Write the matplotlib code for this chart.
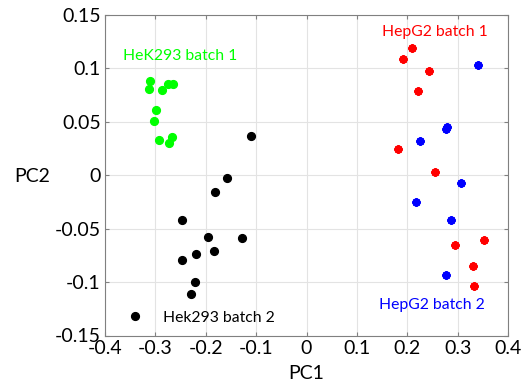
import matplotlib
matplotlib.use("Agg")
import matplotlib.pyplot as plt

plt.rcParams['font.family'] = ['Lato', 'DejaVu Sans']

hek1_x = [-0.310, -0.312, -0.287, -0.275, -0.265, -0.298, -0.302, -0.293, -0.267, -0.273]
hek1_y = [0.088, 0.081, 0.080, 0.085, 0.085, 0.061, 0.051, 0.033, 0.036, 0.030]

hek2_x = [-0.111, -0.157, -0.182, -0.248, -0.196, -0.129, -0.184, -0.220, -0.248, -0.221, -0.230, -0.341]
hek2_y = [0.037, -0.003, -0.016, -0.042, -0.058, -0.059, -0.071, -0.074, -0.079, -0.100, -0.111, -0.132]

hep1_x = [0.210, 0.192, 0.244, 0.221, 0.181, 0.255, 0.352, 0.295, 0.331, 0.332]
hep1_y = [0.119, 0.109, 0.098, 0.079, 0.025, 0.003, -0.061, -0.065, -0.085, -0.104]

hep2_x = [0.341, 0.279, 0.277, 0.226, 0.306, 0.217, 0.286, 0.277]
hep2_y = [0.103, 0.045, 0.043, 0.032, -0.007, -0.025, -0.042, -0.093]

xticks = [-0.4, -0.3, -0.2, -0.1, 0, 0.1, 0.2, 0.3, 0.4]
xtick_labels = ['-0.4', '-0.3', '-0.2', '-0.1', '0', '0.1', '0.2', '0.3', '0.4']
yticks = [-0.15, -0.1, -0.05, 0, 0.05, 0.1, 0.15]
ytick_labels = ['-0.15', '-0.1', '-0.05', '0', '0.05', '0.1', '0.15']

fig = plt.figure(figsize=(5.31, 3.85), dpi=100)
ax = fig.add_axes([105/531, 1-335.5/385, (508-105)/531, (335.5-15)/385])

ax.plot(hek1_x, hek1_y, 'o', color='#00ff00', ms=5.6, mec='#00ff00', zorder=3)
ax.plot(hek2_x, hek2_y, 'o', color='black', ms=5.6, mec='black', zorder=3)
for xs, ys, c in [(hep1_x, hep1_y, '#ff0000'), (hep2_x, hep2_y, '#0000ff')]:
    ax.plot(xs, ys, 'o', color=c, ms=4.8, mec=c, zorder=3)
    ax.plot(xs, ys, linestyle='none', marker=(8, 2, 0), color=c, ms=6.0, mew=1.6, mec=c, zorder=3)

ax.text(-0.251, 0.1118, 'HeK293 batch 1', color='#00ff00', fontsize=11.3, ha='center', va='center')
ax.text(0.255, 0.1338, 'HepG2 batch 1', color='#ff0000', fontsize=11.3, ha='center', va='center')
ax.text(0.249, -0.1219, 'HepG2 batch 2', color='#0000ff', fontsize=11.3, ha='center', va='center')
ax.text(-0.173, -0.134, 'Hek293 batch 2', color='black', fontsize=11.3, ha='center', va='center')

ax.set_xlim(-0.4, 0.4)
ax.set_ylim(-0.15, 0.15)
ax.set_xticks(xticks)
ax.set_xticklabels(xtick_labels)
ax.set_yticks(yticks)
ax.set_yticklabels(ytick_labels)
ax.grid(True, color='#e3e3e3', linewidth=0.8)
ax.set_axisbelow(True)
ax.tick_params(direction='in', length=3, color='#808080', labelsize=14, top=True, right=True,
               labeltop=False, labelright=False, pad=3)
for s in ax.spines.values():
    s.set_color('#808080')
    s.set_linewidth(0.8)

ax.set_xlabel('PC1', fontsize=14, labelpad=6)
ax.set_ylabel('PC2', fontsize=14, rotation=0)
ax.yaxis.label.set_ha('center')
ax.yaxis.label.set_va('center')
ax.yaxis.set_label_coords((32-105)/403, (335.5-176)/320.5)

fig.savefig('out.png', dpi=100)
